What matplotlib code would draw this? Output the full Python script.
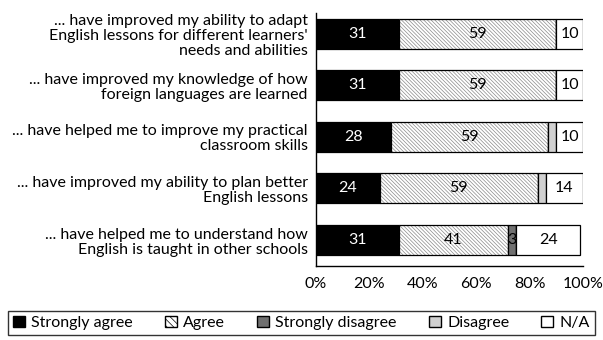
"""Stacked horizontal bar chart of agreement with statements about lessons."""

import numpy as np
import matplotlib.pyplot as plt
from matplotlib.patches import Patch

plt.rcParams['font.family'] = ['Lato', 'DejaVu Sans']
plt.rcParams['hatch.linewidth'] = 0.5

statements = [
    "... have improved my ability to adapt\nEnglish lessons for different learners'\nneeds and abilities",
    "... have improved my knowledge of how\nforeign languages are learned",
    "... have helped me to improve my practical\nclassroom skills",
    "... have improved my ability to plan better\nEnglish lessons",
    "... have helped me to understand how\nEnglish is taught in other schools",
]
strongly_agree = [31, 31, 28, 24, 31]
agree = [59, 59, 59, 59, 41]
strongly_disagree = [0, 0, 0, 0, 3]
disagree = [0, 0, 3, 3, 0]
not_applicable = [10, 10, 10, 14, 24]
x_ticks = [0, 20, 40, 60, 80, 100]

FS = 11.5
HATCH = '\\' * 9

fig = plt.figure(figsize=(6.03, 3.40), dpi=100)
ax = fig.add_axes([0.524, 0.218, 0.443, 0.744])

y = np.arange(len(statements))
h = 0.58
left = np.zeros(len(statements))

series = [
    (strongly_agree, 'black', None, 'white', True),
    (agree, 'white', HATCH, 'black', True),
    (strongly_disagree, '#707070', None, 'black', True),
    (disagree, '#d0d0d0', None, 'black', False),
    (not_applicable, 'white', None, 'black', True),
]

for vals, color, hatch, txt_color, show in series:
    vals = np.array(vals, dtype=float)
    if hatch:
        ax.barh(y, vals, left=left, height=h, color=color, hatch=hatch,
                edgecolor='#8a8a8a', linewidth=0)
        ax.barh(y, vals, left=left, height=h, fill=False,
                edgecolor='black', linewidth=0.9)
    else:
        ax.barh(y, vals, left=left, height=h, color=color,
                edgecolor='black', linewidth=0.9)
    if show:
        for yi, v, l in zip(y, vals, left):
            if v > 0:
                ax.text(l + v / 2, yi, f"{int(v)}", ha='center', va='center',
                        color=txt_color, fontsize=FS)
    left += vals

ax.set_xlim(0, 100)
ax.set_ylim(4.5, -0.4)
ax.set_yticks(y)
ax.set_yticklabels(statements, fontsize=FS, linespacing=1.1)
ax.set_xticks(x_ticks)
ax.set_xticklabels([f"{t}%" for t in x_ticks], fontsize=FS)
ax.tick_params(length=0, pad=6)
ax.tick_params(axis='x', pad=8)
ax.spines[["top", "right"]].set_visible(False)
ax.spines["bottom"].set_linewidth(1)
ax.spines["left"].set_linewidth(1)

handles = [
    Patch(facecolor='black', edgecolor='black', label='Strongly agree'),
    Patch(facecolor='white', edgecolor='black', hatch='\\\\\\\\\\', label='Agree'),
    Patch(facecolor='#707070', edgecolor='black', label='Strongly disagree'),
    Patch(facecolor='#d0d0d0', edgecolor='black', label='Disagree'),
    Patch(facecolor='white', edgecolor='black', label='N/A'),
]
leg = fig.legend(handles=handles, loc='lower center', ncol=5,
                 bbox_to_anchor=(0.5, 0.015), fontsize=FS, frameon=True,
                 fancybox=False, edgecolor='black', handlelength=0.75,
                 handleheight=0.75, handletextpad=0.4, columnspacing=2.0,
                 borderpad=0.3, borderaxespad=0)
leg.get_frame().set_linewidth(1)

fig.savefig("out.png", dpi=100)
